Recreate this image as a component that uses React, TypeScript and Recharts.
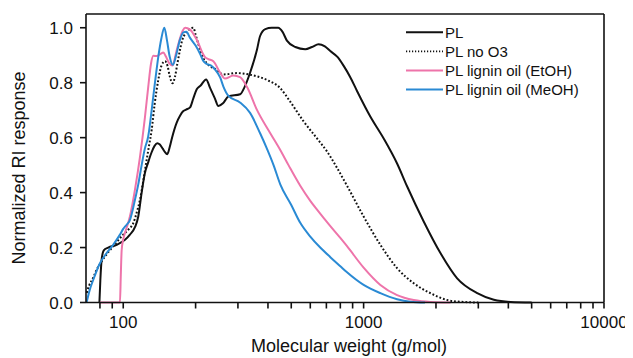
import React from 'react';
import { LineChart, Line, XAxis, YAxis, ReferenceLine, Legend } from 'recharts';

// Molecular weight (g/mol) and normalized RI response
const plMw = [79.6, 80.3, 81.3, 83, 86.6, 93.9, 101.7, 106.6, 112, 115.5, 119.3, 123, 127, 131, 135, 138.6, 142, 146, 149, 152.5, 156, 159.6, 166.9, 172.3, 177, 182.6, 189.7, 195.7, 202.2, 210, 221.2, 230, 240, 248.8, 260, 273.9, 306.4, 320, 337.3, 360, 371, 390, 415, 441, 460, 479.6, 520, 571.6, 610, 649.4, 690, 726.7, 780, 825, 880, 938.7, 1066, 1212, 1378, 1516, 1778, 2087, 2450, 2969, 3481, 4086, 5000];
const plVal = [0, 0.08, 0.155, 0.19, 0.2, 0.21, 0.228, 0.247, 0.275, 0.313, 0.4, 0.47, 0.51, 0.545, 0.57, 0.58, 0.575, 0.56, 0.548, 0.54, 0.565, 0.6, 0.655, 0.68, 0.695, 0.702, 0.71, 0.743, 0.776, 0.79, 0.812, 0.78, 0.745, 0.715, 0.725, 0.75, 0.758, 0.785, 0.837, 0.92, 0.97, 0.995, 1.0, 1.0, 0.985, 0.953, 0.93, 0.922, 0.93, 0.94, 0.932, 0.915, 0.893, 0.862, 0.82, 0.77, 0.677, 0.597, 0.506, 0.423, 0.295, 0.18, 0.088, 0.034, 0.01, 0.002, 0];

const noO3Mw = [70.5, 72, 75, 77.5, 80, 83.9, 87, 90.8, 95, 100, 105, 110.1, 114, 117.4, 121, 125.2, 128, 131.3, 135, 139.9, 144, 149.2, 153, 156, 160.3, 164, 168, 172.3, 176, 180.7, 186, 191, 195.7, 200, 205.4, 215, 226, 241, 261, 297, 337, 396, 450, 495, 562, 640, 704, 775, 853, 1000, 1174, 1378, 1616, 1896, 2226, 2600, 3000];
const noO3Val = [0.035, 0.06, 0.09, 0.119, 0.14, 0.167, 0.185, 0.204, 0.225, 0.247, 0.265, 0.289, 0.33, 0.374, 0.44, 0.52, 0.57, 0.628, 0.72, 0.81, 0.86, 0.878, 0.86, 0.825, 0.798, 0.82, 0.87, 0.92, 0.955, 0.977, 0.99, 0.998, 1.0, 0.975, 0.94, 0.89, 0.865, 0.85, 0.83, 0.835, 0.829, 0.81, 0.78, 0.731, 0.66, 0.597, 0.55, 0.49, 0.425, 0.313, 0.21, 0.125, 0.07, 0.034, 0.009, 0.002, 0];

const etohMw = [80, 96.9, 97.7, 98.5, 100, 101.7, 106.6, 111.9, 117.4, 123.1, 127.1, 130.5, 133.4, 138, 143, 146.8, 150.5, 155, 160.4, 166, 172, 177, 181, 189.7, 202, 219, 226, 237, 253, 265, 287, 306, 327, 360, 409, 450, 487, 545, 600, 640, 727, 800, 853, 1000, 1174, 1378, 1616, 1900, 2300];
const etohVal = [0, 0, 0.1, 0.19, 0.23, 0.253, 0.313, 0.411, 0.53, 0.674, 0.786, 0.87, 0.898, 0.897, 0.905, 0.91, 0.895, 0.872, 0.863, 0.91, 0.96, 0.99, 1.0, 0.993, 0.957, 0.893, 0.886, 0.878, 0.837, 0.815, 0.826, 0.82, 0.785, 0.701, 0.616, 0.555, 0.5, 0.425, 0.37, 0.338, 0.278, 0.235, 0.205, 0.127, 0.064, 0.027, 0.009, 0.002, 0];

const meohMw = [70.4, 72.5, 75, 80, 85.3, 90.8, 96.9, 100, 103.3, 106.6, 111.9, 115.5, 119.3, 123, 127, 131.3, 135.5, 140, 144, 148.2, 152, 156, 160.8, 166, 172, 178, 183, 189.7, 200, 208.7, 215, 222.6, 232, 241, 253, 261, 274, 306, 337, 371, 396, 422, 450, 500, 545, 600, 660, 727, 800, 853, 1000, 1174, 1378, 1565, 1800];
const meohVal = [0, 0.045, 0.082, 0.143, 0.18, 0.21, 0.247, 0.268, 0.283, 0.3, 0.374, 0.43, 0.5, 0.56, 0.604, 0.7, 0.8, 0.896, 0.96, 1.0, 0.955, 0.895, 0.865, 0.9, 0.955, 0.983, 0.985, 0.963, 0.935, 0.905, 0.88, 0.868, 0.862, 0.848, 0.819, 0.786, 0.752, 0.728, 0.69, 0.616, 0.56, 0.5, 0.43, 0.355, 0.29, 0.24, 0.2, 0.165, 0.132, 0.11, 0.064, 0.034, 0.012, 0.003, 0];

const seriesNames = ['PL', 'PL no O3', 'PL lignin oil (EtOH)', 'PL lignin oil (MeOH)'];
const seriesColors = ['#111111', '#111111', '#ee74aa', '#2a8ad4'];

const xTicks = [80, 90, 100, 200, 300, 400, 500, 600, 700, 800, 900, 1000, 2000, 3000, 4000, 5000, 6000, 7000, 8000, 9000, 10000];
const xLabelTicks = [100, 1000, 10000];
const yTicks = [0, 0.2, 0.4, 0.6, 0.8, 1.0];

const zip = (mw: number[], v: number[]) => mw.map((m, i) => ({ mw: m, v: v[i] }));

const FONT = '"Liberation Sans", Arial, Helvetica, sans-serif';

const LegendBox = () => (
  <svg width={230} height={90} style={{ overflow: 'visible' }}>
    {seriesNames.map((name, i) => {
      const y = 14.3 + i * 19.1;
      return (
        <g key={name}>
          <line
            x1={2}
            x2={39}
            y1={y}
            y2={y}
            stroke={seriesColors[i]}
            strokeWidth={i === 1 ? 1.6 : 2}
            strokeDasharray={i === 1 ? '1.2 1.8' : undefined}
          />
          <text x={41} y={y + 5.3} fontFamily={FONT} fontSize={15} fill="#111">
            {name}
          </text>
        </g>
      );
    })}
  </svg>
);

const XTitle = () => (
  <text x={341} y={344} textAnchor="middle" fontFamily={FONT} fontSize={18} fill="#111">
    Molecular weight (g/mol)
  </text>
);

const YTitle = () => (
  <text
    x={0}
    y={0}
    transform="translate(17,160) rotate(-90)"
    textAnchor="middle"
    fontFamily={FONT}
    fontSize={18}
    fill="#111"
  >
    Normalized RI response
  </text>
);

export default function App() {
  return (
    <LineChart width={625} height={350} margin={{ top: 6, right: 29, left: 0, bottom: 0 }}>
      <XAxis
        dataKey="mw"
        type="number"
        scale="log"
        domain={[70, 10000]}
        allowDataOverflow
        ticks={xTicks}
        interval={0}
        tickFormatter={(v: number) => (xLabelTicks.includes(v) ? String(v) : '')}
        tickSize={6}
        tickMargin={7}
        height={55.5}
        stroke="#111"
        strokeWidth={1.6}
        tick={{ fill: '#111', fontSize: 17, fontFamily: FONT }}
        label={<XTitle />}
      />
      <YAxis
        type="number"
        domain={[0, 1.05]}
        ticks={yTicks}
        interval={0}
        tickFormatter={(v: number) => v.toFixed(1)}
        width={78}
        tickSize={6}
        tickMargin={7}
        stroke="#111"
        strokeWidth={1.6}
        tick={{ fill: '#111', fontSize: 17, fontFamily: FONT }}
        label={<YTitle />}
      />
      <ReferenceLine y={1.05} stroke="#111" strokeWidth={1.6} />
      <ReferenceLine x={10000} stroke="#111" strokeWidth={1.6} />
      <Line
        data={zip(plMw, plVal)}
        dataKey="v"
        name={seriesNames[0]}
        type="monotone"
        stroke={seriesColors[0]}
        strokeWidth={2}
        dot={false}
        isAnimationActive={false}
      />
      <Line
        data={zip(noO3Mw, noO3Val)}
        dataKey="v"
        name={seriesNames[1]}
        type="monotone"
        stroke={seriesColors[1]}
        strokeWidth={2}
        strokeDasharray="1.8 2"
        dot={false}
        isAnimationActive={false}
      />
      <Line
        data={zip(etohMw, etohVal)}
        dataKey="v"
        name={seriesNames[2]}
        type="monotone"
        stroke={seriesColors[2]}
        strokeWidth={2}
        dot={false}
        isAnimationActive={false}
      />
      <Line
        data={zip(meohMw, meohVal)}
        dataKey="v"
        name={seriesNames[3]}
        type="monotone"
        stroke={seriesColors[3]}
        strokeWidth={2}
        dot={false}
        isAnimationActive={false}
      />
      <Legend
        layout="vertical"
        align="center"
        verticalAlign="middle"
        content={<LegendBox />}
        wrapperStyle={{ top: 10, left: 396, width: 230, height: 90 }}
      />
    </LineChart>
  );
}
